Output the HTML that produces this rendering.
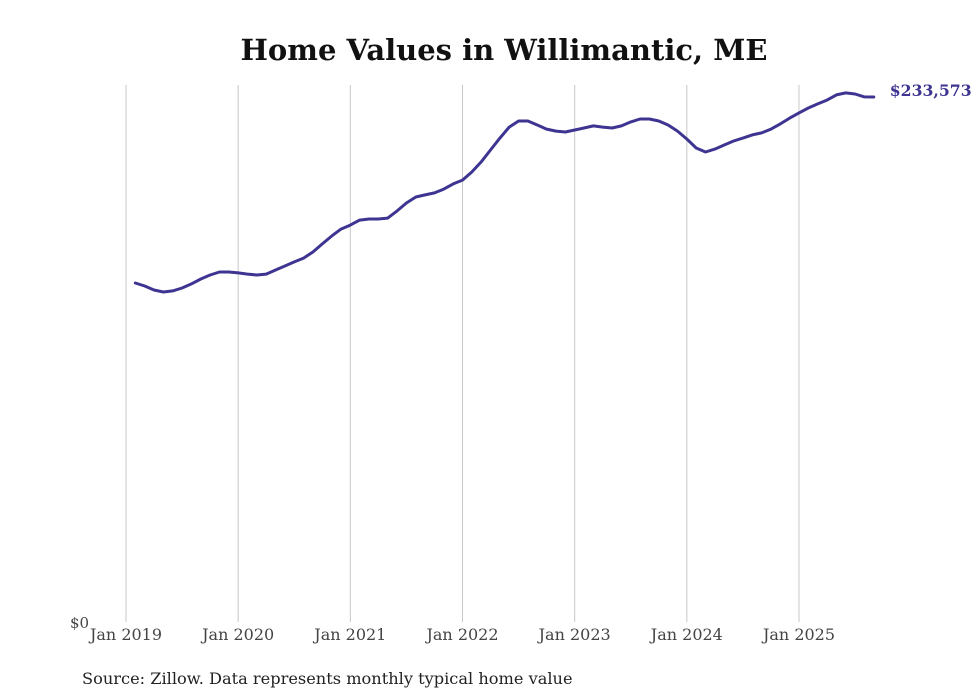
<!DOCTYPE html>
<html><head><meta charset="utf-8">
<style>
body{margin:0;background:#fff;}
svg{display:block;font-family:"DejaVu Serif","Liberation Serif",serif;}
</style></head>
<body>
<svg id="chart" width="980" height="699">
<text x="504" y="60" text-anchor="middle" font-size="29" font-weight="bold" fill="#111">Home Values in Willimantic, ME</text>
<g id="grid"></g>
<g id="xticks"></g>
<text x="70" y="628" font-size="15" fill="#444">$0</text>
<path id="line" fill="none" stroke="#3d3591" stroke-width="3" stroke-linejoin="round" stroke-linecap="round"/>
<text id="endlabel" font-size="15.7" font-weight="bold" fill="#3d3591"></text>
<text x="82" y="684" font-size="16.2" fill="#222">Source: Zillow. Data represents monthly typical home value</text>
</svg>
<script>
const tickLabels=["Jan 2019","Jan 2020","Jan 2021","Jan 2022","Jan 2023","Jan 2024","Jan 2025"];
const startMonth=1; // Feb 2019 (months since Jan 2019)
const values=[150800,149500,147700,146800,147300,148600,150400,152600,154400,155700,155700,155300,154800,154400,154800,156600,158400,160200,161900,164600,168200,171700,174800,176600,178800,179300,179300,179700,182900,186400,189100,190000,190900,192600,194900,196600,200200,204700,210000,215300,220200,222900,222900,221100,219300,218400,218000,218900,219800,220700,220200,219800,220700,222500,223800,223800,222900,221100,218400,214900,210900,209100,210400,212200,214000,215300,216700,217600,219300,221600,224200,226500,228700,230500,232200,234500,235400,234900,233600,233573];
const NS="http://www.w3.org/2000/svg";
const x=m=>126+m*(673/72);
const y=v=>622-v*(525/233573);
const grid=document.getElementById('grid'),xt=document.getElementById('xticks');
tickLabels.forEach((t,i)=>{
  const l=document.createElementNS(NS,'line');
  
  
  l.setAttribute('x1',x(i*12));l.setAttribute('x2',x(i*12));
  l.setAttribute('y1',85);l.setAttribute('y2',622);
  l.setAttribute('stroke','#c8c8c8');l.setAttribute('stroke-width','1');
  grid.appendChild(l);
  const tx=document.createElementNS(NS,'text');
  
  
  tx.setAttribute('x',x(i*12));tx.setAttribute('y',640);
  tx.setAttribute('text-anchor','middle');tx.setAttribute('font-size','16');tx.setAttribute('fill','#444');
  tx.textContent=t;xt.appendChild(tx);
});
let d='';
values.forEach((v,i)=>{d+=(i?'L':'M')+x(startMonth+i).toFixed(1)+','+y(v).toFixed(1);});
document.getElementById('line').setAttribute('d',d);
const last=values[values.length-1];
const el=document.getElementById('endlabel');
el.setAttribute('x',x(startMonth+values.length-1)+16);
el.setAttribute('y',y(last)-1);
el.textContent='$'+Math.round(last).toLocaleString('en-US');
</script>
</body></html>
